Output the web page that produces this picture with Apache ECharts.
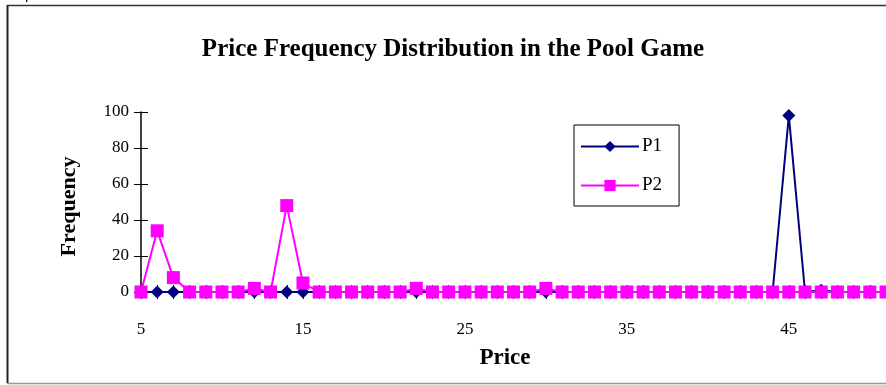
<!DOCTYPE html>
<html>
<head>
<meta charset="utf-8">
<script src="https://cdn.jsdelivr.net/npm/echarts@6/dist/echarts.min.js"></script>
<style>html,body{margin:0;padding:0;background:#fff;}#c{width:886px;height:385px;}</style>
</head>
<body>
<div id="c"></div>
<script>
const categories = ['5','6','7','8','9','10','11','12','13','14','15','16','17','18','19','20','21','22','23','24','25','26','27','28','29','30','31','32','33','34','35','36','37','38','39','40','41','42','43','44','45','46','47','48','49','50','51'];
const p1 = [0,0,0,0,0,0,0,0,0,0,0,0,0,0,0,0,0,0,0,0,0,0,0,0,0,0,0,0,0,0,0,0,0,0,0,0,0,0,0,0,98,0,1,0,0,0,0];
const p2 = [0,34,8,0,0,0,0,2,0,48,5,0,0,0,0,0,0,2,0,0,0,0,0,0,0,2,0,0,0,0,0,0,0,0,0,0,0,0,0,0,0,0,0,0,0,0,0];
const xTickLabels = ['5','15','25','35','45'];
const yMin = 0, yMax = 100, yStep = 20;

const serif = '"Liberation Serif", "Times New Roman", serif';
const chart = echarts.init(document.getElementById('c'), null, {renderer: 'canvas'});
const xAxisBase = {
  type: 'category', data: categories, boundaryGap: false,
  axisLine: {show: true, lineStyle: {color: '#000', width: 1}},
  splitLine: {show: false}
};
chart.setOption({
  animation: false,
  backgroundColor: '#fff',
  title: {
    text: 'Price Frequency Distribution in the Pool Game',
    left: 448, top: 32, textAlign: 'center',
    textStyle: {fontFamily: serif, fontWeight: 'bold', fontSize: 25, color: '#000'}
  },
  legend: {
    orient: 'vertical', left: 574, top: 125,
    padding: [12, 17, 11, 6],
    itemWidth: 58, itemHeight: 14, itemGap: 20,
    backgroundColor: '#fff', borderColor: '#000', borderWidth: 1, borderRadius: 0,
    textStyle: {fontFamily: serif, fontSize: 19, color: '#000', padding: [0, 0, 0, -2]},
    data: ['P1', 'P2']
  },
  grid: {left: 141, right: 0, top: 112, bottom: 93, containLabel: false},
  xAxis: [
    Object.assign({}, xAxisBase, {
      name: 'Price', nameLocation: 'middle', nameGap: 55,
      nameTextStyle: {fontFamily: serif, fontWeight: 'bold', fontSize: 23, color: '#000', padding: [0, 17, 0, 0]},
      axisTick: {show: true, interval: 0, length: 7, inside: false, lineStyle: {color: '#000'}},
      axisLabel: {
        show: true, margin: 29,
        interval: function (i, v) { return xTickLabels.indexOf(v) >= 0; },
        fontFamily: serif, fontSize: 17, color: '#000'
      }
    }),
    Object.assign({}, xAxisBase, {
      position: 'bottom',
      axisTick: {show: true, interval: 0, length: 7, inside: true, lineStyle: {color: '#000'}},
      axisLabel: {show: false}
    })
  ],
  yAxis: [
    {
      type: 'value', min: yMin, max: yMax, interval: yStep,
      name: 'Frequency', nameLocation: 'middle', nameGap: 61, nameRotate: 90,
      nameTextStyle: {fontFamily: serif, fontWeight: 'bold', fontSize: 22, color: '#000', padding: [0, 9, 0, 0]},
      axisLine: {show: true, lineStyle: {color: '#000', width: 1.5}},
      axisTick: {show: true, length: 7, lineStyle: {color: '#000'}},
      axisLabel: {margin: 12, fontFamily: serif, fontSize: 17, color: '#000'},
      splitLine: {show: false}
    },
    {
      type: 'value', min: yMin, max: yMax, interval: yStep, position: 'left',
      axisLine: {show: false},
      axisTick: {show: true, inside: true, length: 7, lineStyle: {color: '#000'}},
      axisLabel: {show: false},
      splitLine: {show: false}
    }
  ],
  graphic: [
    {type: 'text', left: 0, top: -13, style: {text: 'Graph 5', font: '15px "Liberation Sans", Arial, sans-serif', fill: '#000'}},
    {type: 'line', shape: {x1: 7.5, y1: 5, x2: 7.5, y2: 383}, style: {stroke: '#222', lineWidth: 2}},
    {type: 'line', shape: {x1: 7, y1: 5.5, x2: 886, y2: 5.5}, style: {stroke: '#333', lineWidth: 1.5}},
    {type: 'line', shape: {x1: 7, y1: 383.5, x2: 886, y2: 383.5}, style: {stroke: '#999', lineWidth: 1.5}}
  ],
  series: [
    {
      name: 'P1', type: 'line', data: p1,
      symbol: 'diamond', symbolSize: 13, showAllSymbol: true,
      lineStyle: {color: '#000080', width: 2},
      itemStyle: {color: '#000080'}
    },
    {
      name: 'P2', type: 'line', data: p2,
      symbol: 'rect', symbolSize: 13, showAllSymbol: true,
      lineStyle: {color: '#FF00FF', width: 2},
      itemStyle: {color: '#FF00FF'}
    }
  ]
});
</script>
</body>
</html>
